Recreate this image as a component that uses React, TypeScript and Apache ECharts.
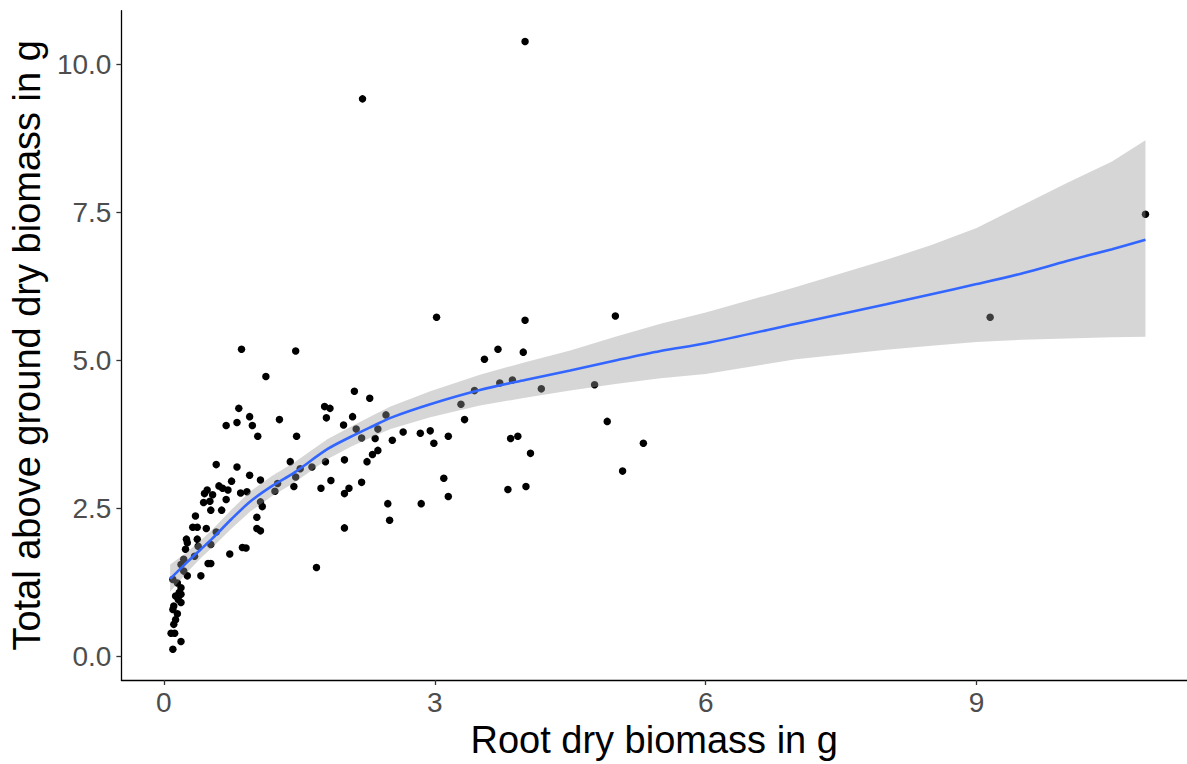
import React, { useEffect, useRef } from "react";
import * as echarts from "echarts";

// Root dry biomass (g) of each plant
const rootMass = [
  4.0, 2.2, 10.87, 9.15, 3.02, 4.0, 5.0, 3.7, 3.98, 3.55,
  3.44, 3.72, 3.86, 4.18, 4.77, 3.29, 3.33, 2.65, 2.84, 2.95,
  2.99, 3.15, 3.84, 3.92, 4.06, 4.91, 5.31, 5.08, 3.1, 3.15,
  2.85, 3.81, 4.01, 1.46, 1.13, 2.11, 2.28, 1.78, 1.84, 1.8,
  2.09, 1.28, 1.04, 1.47, 1.99, 2.46, 2.13, 2.19, 2.37, 2.34,
  2.31, 2.37, 2.25, 2.53, 1.4, 1.79, 1.64, 1.51, 1.46, 2.0,
  1.07, 1.44, 1.74, 1.85, 2.05, 2.0, 2.19, 1.23, 1.26, 1.07,
  1.09, 1.03, 1.03, 1.07, 2.0, 2.48, 2.5, 1.69, 0.86, 0.83,
  0.95, 0.81, 0.69, 0.98, 0.58, 0.81, 0.95, 0.75, 0.61, 0.65,
  0.71, 0.48, 0.45, 0.54, 0.69, 0.85, 0.92, 0.51, 0.44, 0.52,
  0.64, 0.35, 0.32, 0.37, 0.47, 0.58, 0.25, 0.26, 0.24, 0.37,
  0.38, 0.34, 0.52, 0.73, 0.87, 0.91, 0.52, 0.49, 0.41, 0.22,
  0.19, 0.22, 0.26, 0.1, 0.15, 0.19, 0.17, 0.13, 0.19, 0.11,
  0.1, 0.15, 0.13, 0.11, 0.08, 0.12, 0.19, 0.1, 0.16, 0.19,
];

// Total above ground dry biomass (g) of the same plants
const shootMass = [
  10.39, 9.42, 7.47, 5.73, 5.73, 5.68, 5.75, 5.19, 5.14, 5.02,
  4.49, 4.62, 4.67, 4.52, 4.59, 4.26, 4.0, 3.79, 3.77, 3.81,
  3.6, 3.72, 3.68, 3.72, 3.43, 3.97, 3.6, 3.13, 3.01, 2.7,
  2.58, 2.82, 2.87, 5.16, 4.73, 4.48, 4.36, 4.22, 4.19, 4.03,
  4.05, 4.0, 3.72, 3.72, 3.91, 4.08, 3.84, 3.69, 3.84, 3.68,
  3.41, 3.48, 3.29, 3.65, 3.29, 3.29, 3.2, 3.17, 3.03, 3.32,
  2.98, 2.87, 2.84, 2.97, 2.84, 2.75, 2.94, 2.79, 2.92, 2.61,
  2.53, 2.35, 2.16, 2.12, 2.17, 2.58, 2.3, 1.5, 5.19, 4.19,
  4.05, 3.95, 3.9, 3.9, 3.24, 3.2, 3.06, 2.96, 2.88, 2.84,
  2.81, 2.81, 2.75, 2.73, 2.65, 2.76, 2.78, 2.62, 2.6, 2.47,
  2.47, 2.37, 2.18, 2.18, 2.16, 2.1, 1.98, 1.92, 1.81, 1.98,
  1.86, 1.69, 1.89, 1.73, 1.84, 1.83, 1.57, 1.57, 1.36, 1.64,
  1.55, 1.44, 1.36, 1.3, 1.24, 1.16, 1.08, 1.02, 0.91, 0.85,
  0.79, 0.72, 0.62, 0.54, 0.39, 0.39, 0.25, 0.12, 0.96, 1.05,
];

// Smoothed trend with its confidence band
const fitX = [0.07, 0.25, 0.41, 0.53, 0.75, 0.96, 1.2, 1.44, 1.81, 2.07, 2.3, 2.51, 2.95, 3.5, 4.0, 4.5, 5.0, 5.5, 6.0, 7.0, 8.0, 8.5, 9.0, 9.5, 10.0, 10.5, 10.87];
const fitY = [1.31, 1.58, 1.81, 1.98, 2.32, 2.62, 2.88, 3.1, 3.5, 3.71, 3.88, 4.03, 4.26, 4.5, 4.67, 4.83, 5.0, 5.16, 5.29, 5.62, 5.95, 6.12, 6.29, 6.47, 6.68, 6.88, 7.04];
const fitLo = [1.09, 1.41, 1.66, 1.83, 2.16, 2.45, 2.71, 2.93, 3.33, 3.54, 3.7, 3.84, 4.04, 4.24, 4.37, 4.49, 4.6, 4.7, 4.77, 5.02, 5.18, 5.25, 5.31, 5.35, 5.37, 5.39, 5.4];
const fitHi = [1.55, 1.75, 1.96, 2.13, 2.48, 2.79, 3.05, 3.27, 3.67, 3.88, 4.06, 4.22, 4.48, 4.76, 4.97, 5.17, 5.4, 5.62, 5.81, 6.24, 6.7, 6.95, 7.24, 7.62, 8.0, 8.36, 8.72];

const xTicks = [0, 3, 6, 9];
const yTicks = [0, 2.5, 5, 7.5, 10];

const FONT = "'Liberation Sans', Arial, sans-serif";

export default function App() {
  const ref = useRef<HTMLDivElement>(null);

  useEffect(() => {
    if (!ref.current) return;
    const chart = echarts.init(ref.current, undefined, { renderer: "svg" });

    const points = rootMass.map((x, i) => [x, shootMass[i]]);
    const trend = fitX.map((x, i) => [x, fitY[i]]);

    chart.setOption({
      animation: false,
      backgroundColor: "#ffffff",
      grid: { left: 121, right: 0, top: 10.7, bottom: 83.5, containLabel: false },
      xAxis: {
        type: "value",
        min: -0.47,
        max: 11.33,
        name: "Root dry biomass in g",
        nameLocation: "middle",
        nameGap: 41,
        nameTextStyle: { color: "#000", fontSize: 38, fontFamily: FONT },
        axisLine: { show: true, onZero: false, lineStyle: { color: "#000", width: 1.3 } },
        axisTick: { show: true, length: 5, customValues: xTicks, lineStyle: { color: "#333", width: 1.3 } },
        axisLabel: { customValues: xTicks, color: "#4d4d4d", fontSize: 28, fontFamily: FONT, margin: 8 },
        splitLine: { show: false },
      },
      yAxis: {
        type: "value",
        min: -0.4,
        max: 10.91,
        name: "Total above ground dry biomass in g",
        nameLocation: "middle",
        nameGap: 74,
        nameTextStyle: { color: "#000", fontSize: 38, fontFamily: FONT },
        axisLine: { show: true, onZero: false, lineStyle: { color: "#000", width: 1.3 } },
        axisTick: { show: true, length: 5, customValues: yTicks, lineStyle: { color: "#333", width: 1.3 } },
        axisLabel: {
          customValues: yTicks,
          color: "#4d4d4d",
          fontSize: 28,
          fontFamily: FONT,
          margin: 10,
          formatter: (v: number) => v.toFixed(1),
        },
        splitLine: { show: false },
      },
      series: [
        {
          type: "scatter",
          data: points,
          symbol: "circle",
          symbolSize: 7.5,
          itemStyle: { color: "#000", opacity: 1 },
          z: 2,
          silent: true,
        },
        {
          type: "custom",
          data: [[fitX[0], fitY[0]]],
          z: 3,
          silent: true,
          renderItem: (_params: any, api: any) => {
            const pts: number[][] = [];
            for (let i = 0; i < fitX.length; i++) pts.push(api.coord([fitX[i], fitHi[i]]));
            for (let i = fitX.length - 1; i >= 0; i--) pts.push(api.coord([fitX[i], fitLo[i]]));
            return {
              type: "polygon",
              shape: { points: pts },
              style: { fill: "rgba(153,153,153,0.4)", stroke: "none" },
            };
          },
        },
        {
          type: "line",
          data: trend,
          showSymbol: false,
          smooth: 0.3,
          lineStyle: { color: "#3366ff", width: 2.6 },
          z: 4,
          silent: true,
        },
      ],
    });

    return () => chart.dispose();
  }, []);

  return (
    <div
      ref={ref}
      style={{ position: "fixed", left: 0, top: 0, width: 1187, height: 764, background: "#fff" }}
    />
  );
}
